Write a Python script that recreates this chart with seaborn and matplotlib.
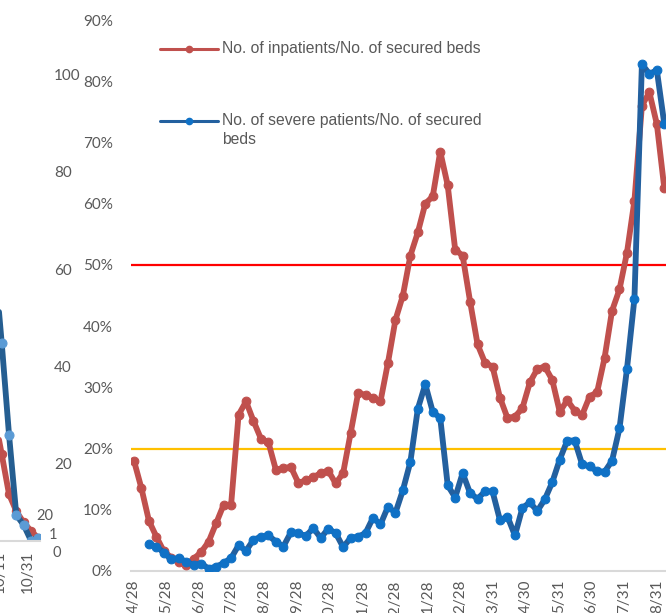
import matplotlib
matplotlib.use("Agg")
import matplotlib.pyplot as plt
from matplotlib.lines import Line2D
from matplotlib.ticker import FuncFormatter
import numpy as np
import pandas as pd
import seaborn as sns

W, H = 666, 613

# weekly samples starting 2020-04-28 (values in %)
start_date = "2020-04-28"
inpatients_pct = [
    18.0, 13.5, 8.2, 5.6, 3.2, 2.2, 1.4, 1.0, 2.0, 3.1,
    4.8, 7.8, 10.8, 10.8, 25.5, 27.7, 24.5, 21.6, 21.0, 16.5,
    16.8, 17.0, 14.4, 14.8, 15.3, 16.0, 16.4, 14.3, 16.0, 22.5,
    29.0, 28.8, 28.3, 27.7, 34.0, 41.0, 45.0, 51.5, 55.3, 60.0,
    61.2, 68.5, 63.0, 52.5, 51.5, 44.0, 37.0, 34.0, 33.4, 28.3,
    25.0, 25.2, 26.6, 30.8, 33.0, 33.4, 31.2, 26.0, 27.9, 26.2,
    25.5, 28.5, 29.2, 34.8, 42.5, 46.0, 52.0, 60.5, 76.0, 78.2,
    73.0, 62.5,
]
severe_pct = [
    np.nan, np.nan, 4.4, 4.0, 3.0, 1.9, 2.1, 1.5, 1.0, 1.2,
    0.4, 0.7, 1.3, 2.1, 4.2, 3.3, 5.1, 5.6, 5.8, 4.8,
    4.0, 6.3, 6.2, 5.7, 7.0, 5.4, 6.9, 6.2, 3.9, 5.4,
    5.6, 6.2, 8.7, 7.6, 10.5, 9.5, 13.2, 17.8, 26.5, 30.5,
    26.0, 25.0, 14.0, 12.0, 16.0, 12.7, 11.8, 13.0, 13.0, 8.3,
    8.9, 5.8, 10.3, 11.2, 9.8, 11.7, 14.5, 18.2, 21.3, 21.3,
    17.4, 17.1, 16.3, 16.2, 18.0, 23.3, 33.0, 44.5, 82.8, 81.2,
    81.8, 73.0,
]
tick_dates = [
    "2020-04-28", "2020-05-28", "2020-06-28", "2020-07-28", "2020-08-28",
    "2020-09-28", "2020-10-28", "2020-11-28", "2020-12-28", "2021-01-28",
    "2021-02-28", "2021-03-31", "2021-04-30", "2021-05-31", "2021-06-30",
    "2021-07-31", "2021-08-31",
]
tick_labels = ["4/28", "5/28", "6/28", "7/28", "8/28", "9/28", "10/28", "11/28",
               "12/28", "1/28", "2/28", "3/31", "4/30", "5/31", "6/30", "7/31", "8/31"]
y_ticks = list(range(0, 100, 10))
threshold_red = 50
threshold_yellow = 20

# the neighbouring chart cut off on the left
left_idx = [-1, 0, 1, 2, 3, 4, 5]
left_inpatients = [30.0, 22.0, 13.8, 10.3, 8.0, 6.3, 4.8]
left_severe = [62.0, 44.8, 26.0, 9.5, 7.5, 4.3, 4.8]
left_yticks = [20, 40, 60, 80, 100]
left_xticks = [-0.3, 3.6]
left_xlabels = ["10/11", "10/31"]

RED = "#C0504D"
BLUE_LINE = "#23609F"
BLUE_DOT = "#0F71C6"
GRAY = "#595959"

sns.set_theme(style="white")
plt.rcParams["font.family"] = ["Lato", "DejaVu Sans"]

dates = pd.date_range(start_date, periods=len(inpatients_pct), freq="7D")
df = pd.DataFrame({"date": dates, "inpatients": inpatients_pct, "severe": severe_pct})

fig = plt.figure(figsize=(W / 100, H / 100), dpi=100)
ax = fig.add_axes([131 / W, 1 - 571 / H, (680 - 131) / W, (571 - 20) / H])

ax.axhline(threshold_red, color="#FF0000", lw=1.6, zorder=1)
ax.axhline(threshold_yellow, color="#FFC000", lw=1.6, zorder=1)

sns.lineplot(data=df, x="date", y="inpatients", ax=ax, color=RED, lw=4.2,
             marker="o", ms=6.3, mec=RED, mfc=RED, zorder=3)
sns.lineplot(data=df.dropna(), x="date", y="severe", ax=ax, color=BLUE_LINE, lw=4.2,
             marker="o", ms=6.3, mec=BLUE_DOT, mfc=BLUE_DOT, zorder=4)

t0 = pd.Timestamp(start_date)
ax.set_xlim(t0 - pd.Timedelta(days=2.8), t0 + pd.Timedelta(days=511.7))
ax.set_ylim(0, 90)
ax.set_yticks(y_ticks)
ax.yaxis.set_major_formatter(FuncFormatter(lambda v, p: f"{v:.0f}%"))
ax.set_xticks(pd.to_datetime(tick_dates))
ax.set_xticklabels(tick_labels, rotation=90)
ax.tick_params(axis="both", length=0, labelsize=11, labelcolor=GRAY)
ax.tick_params(axis="y", pad=13)
ax.tick_params(axis="x", pad=6)
ax.set_xlabel("")
ax.set_ylabel("")
for s in ["top", "right", "left"]:
    ax.spines[s].set_visible(False)
ax.spines["bottom"].set_color("#D9D9D9")
ax.spines["bottom"].set_linewidth(1.5)
ax.grid(False)

# legend drawn by hand
leg_font = dict(family=["Liberation Sans", "DejaVu Sans"], fontsize=11.3, color=GRAY)
for y_px, col, dot in [(49, RED, RED), (121, BLUE_LINE, BLUE_DOT)]:
    yf = 1 - y_px / H
    fig.add_artist(Line2D([160 / W, 218 / W], [yf, yf], color=col, lw=2.2))
    fig.add_artist(Line2D([189 / W], [yf], color=col, marker="o", ms=4.5, mfc=dot, mec=dot))
fig.text(222 / W, 1 - 49 / H, "No. of inpatients/No. of secured beds",
         va="center", ha="left", **leg_font)
fig.text(222 / W, 1 - 113 / H, "No. of severe patients/No. of secured\nbeds",
         va="top", ha="left", linespacing=1.35, **leg_font)

# left chart fragment
axl = fig.add_axes([-50 / W, 1 - 541 / H, 90 / W, (541 - 20) / H])
dl = pd.DataFrame({"idx": left_idx, "inpatients": left_inpatients, "severe": left_severe})
sns.lineplot(data=dl, x="idx", y="inpatients", ax=axl, color=RED, lw=4.2,
             marker="o", ms=6, mec=RED, mfc=RED)
sns.lineplot(data=dl, x="idx", y="severe", ax=axl, color="#255E91", lw=4.2,
             marker="o", ms=6.5, mec="#5B9BD5", mfc="#5B9BD5")
axl.set_xlim(-7.08, 5.24)
axl.set_ylim(4.2, 111.1)
axl.yaxis.tick_right()
axl.set_yticks(left_yticks)
axl.set_xticks(left_xticks)
axl.set_xticklabels(left_xlabels, rotation=90)
axl.tick_params(axis="both", length=0, labelsize=11, labelcolor=GRAY)
axl.tick_params(axis="y", pad=10)
axl.tick_params(axis="x", pad=7)
axl.set_xlabel("")
axl.set_ylabel("")
axl.patch.set_alpha(0)
for s in ["top", "right", "left"]:
    axl.spines[s].set_visible(False)
axl.spines["bottom"].set_color("#D9D9D9")
axl.spines["bottom"].set_linewidth(1.5)

for txt, xp, yp in [("20", 45, 516), ("1", 53, 535), ("0", 57, 553)]:
    fig.text(xp / W, 1 - yp / H, txt, ha="center", va="center", fontsize=10.5, color=GRAY)

fig.savefig("out.png", dpi=100)
